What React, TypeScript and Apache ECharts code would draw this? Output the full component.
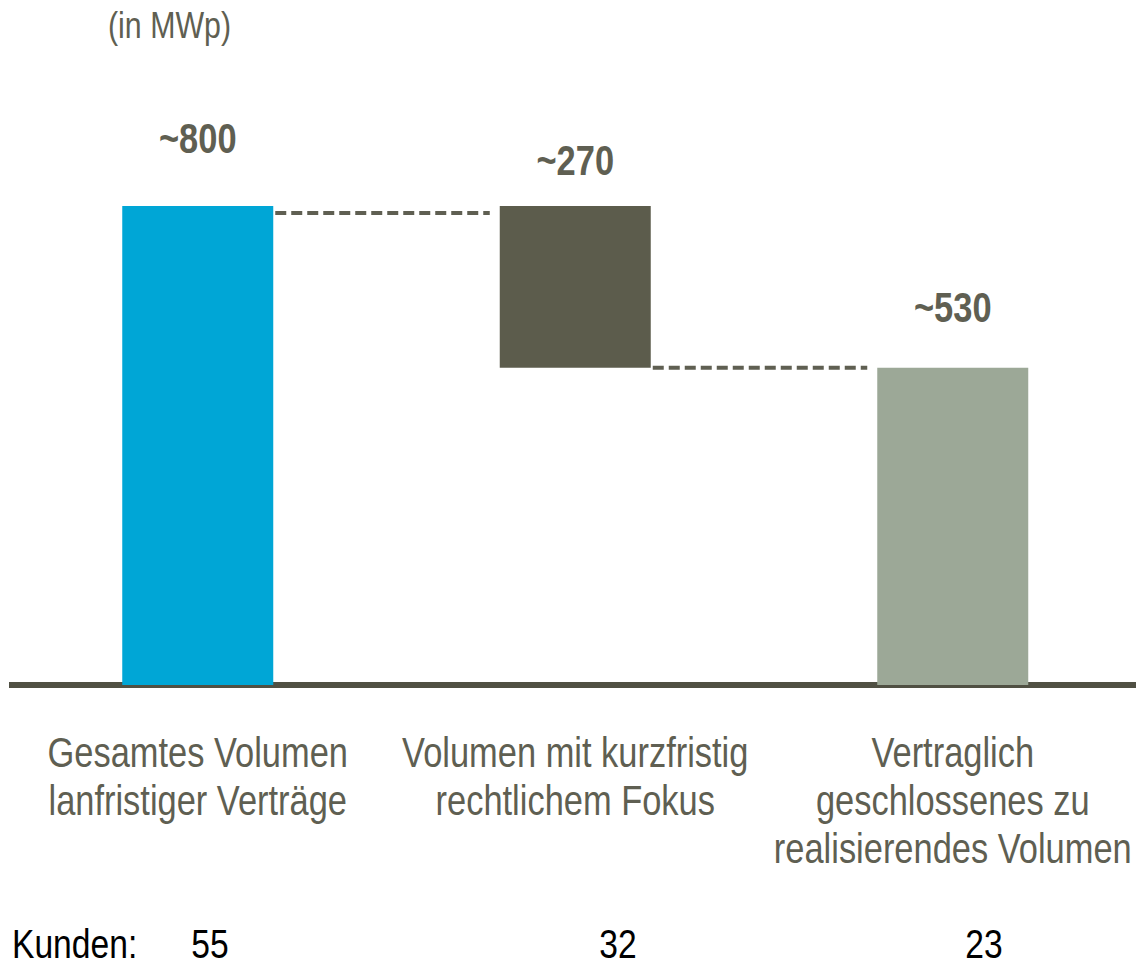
import React, { useEffect, useRef } from "react";
import * as echarts from "echarts";

// ---- data ----
const categories = [
  "Gesamtes Volumen\nlanfristiger Verträge",
  "Volumen mit kurzfristig\nrechtlichem Fokus",
  "Vertraglich\ngeschlossenes zu\nrealisierendes Volumen",
];
const barValues = [800, 270, 530];
const barBases = [0, 530, 0];
const unitLabel = "(in MWp)";
const kundenLabel = "Kunden:";
const kundenValues = [55, 32, 23];

// ---- styles ----
const FONT = "'Liberation Sans', Arial, sans-serif";
const NARROW = 0.82;
const TEXT = "#5f5f52";
const barColors = ["#00a6d6", "#5c5c4c", "#9ca897"];
const valueLabelGap = [68, 46, 60];
const connectorOffsetPx = [7, 0];
const kundenX = [210, 618, 984];
const BAR_W = 151;

export default function App() {
  const ref = useRef<HTMLDivElement>(null);
  useEffect(() => {
    if (!ref.current) return;
    const chart = echarts.init(ref.current, null, { renderer: "svg" });

    // connector levels: top of bar1 -> bar2; bottom of bar2 -> bar3
    const connectors = [
      [0, barBases[0] + barValues[0], connectorOffsetPx[0]],
      [1, barBases[1], connectorOffsetPx[1]],
    ];

    chart.setOption({
      animation: false,
      grid: {
        left: 9,
        width: 1132.5,
        top: 206,
        bottom: 283,
        containLabel: false,
        outerBoundsMode: "none",
      },
      xAxis: {
        type: "category",
        data: categories,
        offset: 4,
        axisLine: { lineStyle: { color: "#505043", width: 6, cap: "butt" } },
        axisTick: { show: false },
        axisLabel: { show: false },
      },
      yAxis: {
        type: "value",
        min: 0,
        max: 800,
        show: false,
        splitLine: { show: false },
      },
      series: [
        {
          type: "bar",
          stack: "w",
          barWidth: BAR_W,
          silent: true,
          itemStyle: { color: "transparent" },
          data: barBases,
        },
        {
          type: "bar",
          stack: "w",
          barWidth: BAR_W,
          data: barValues.map((v, i) => ({
            value: v,
            itemStyle: { color: barColors[i] },
          })),
        },
        {
          type: "custom",
          data: connectors,
          silent: true,
          clip: false,
          z: 5,
          renderItem: (params: any, api: any) => {
            const idx = api.value(0);
            const val = api.value(1);
            const off = api.value(2);
            const p1 = api.coord([idx, val]);
            const p2 = api.coord([idx + 1, val]);
            const y = p1[1] + off;
            return {
              type: "line",
              shape: {
                x1: p1[0] + BAR_W / 2 + 2,
                y1: y,
                x2: p2[0] - BAR_W / 2 - 10,
                y2: y,
              },
              style: { stroke: "#5f5f52", lineWidth: 4, lineDash: [11, 5] },
            };
          },
        },
        {
          // value labels "~800" etc.
          type: "custom",
          data: barValues.map((v, i) => [i, barBases[i] + v, v]),
          silent: true,
          clip: false,
          z: 6,
          renderItem: (params: any, api: any) => {
            const i = api.value(0);
            const p = api.coord([i, api.value(1)]);
            return {
              type: "text",
              x: p[0],
              y: p[1] - valueLabelGap[i],
              scaleX: NARROW,
              style: {
                text: "~" + api.value(2),
                fontFamily: FONT,
                fontSize: 42,
                fontWeight: "bold",
                fill: TEXT,
                align: "center",
                verticalAlign: "middle",
              },
            };
          },
        },
        {
          // category labels
          type: "custom",
          data: categories.map((c, i) => [i, 0]),
          silent: true,
          clip: false,
          z: 6,
          renderItem: (params: any, api: any) => {
            const i = api.value(0);
            const p = api.coord([i, 0]);
            return {
              type: "text",
              x: p[0],
              y: p[1] + 43,
              scaleX: NARROW,
              style: {
                text: categories[i],
                fontFamily: FONT,
                fontSize: 42,
                lineHeight: 48,
                fill: TEXT,
                align: "center",
                verticalAlign: "top",
              },
            };
          },
        },
      ],
      graphic: [
        {
          type: "text",
          x: 108,
          y: 25,
          scaleX: NARROW,
          style: {
            text: unitLabel,
            fontFamily: FONT,
            fontSize: 37,
            lineHeight: 40,
            fill: TEXT,
            verticalAlign: "middle",
          },
        },
        {
          type: "text",
          x: 12,
          y: 944,
          scaleX: NARROW,
          style: {
            text: kundenLabel,
            fontFamily: FONT,
            fontSize: 41,
            lineHeight: 34,
            fill: "#000",
            verticalAlign: "middle",
          },
        },
        ...kundenValues.map((v, i) => ({
          type: "text",
          x: kundenX[i],
          y: 944,
          scaleX: NARROW,
          style: {
            text: String(v),
            fontFamily: FONT,
            fontSize: 41,
            lineHeight: 34,
            fill: "#000",
            align: "center",
            verticalAlign: "middle",
          },
        })),
      ],
    });
    return () => chart.dispose();
  }, []);
  return (
    <div
      ref={ref}
      style={{ position: "absolute", left: 0, top: 0, width: 1136, height: 968 }}
    />
  );
}
